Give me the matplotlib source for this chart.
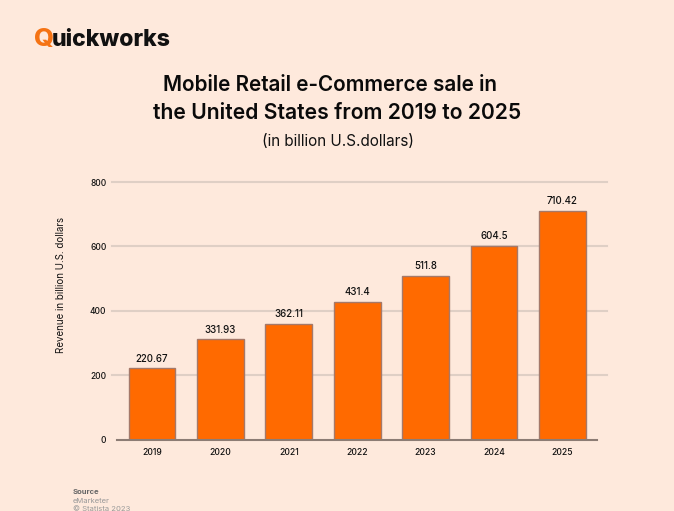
import matplotlib
matplotlib.use("Agg")
from matplotlib import pyplot as plt

years = ["2019", "2020", "2021", "2022", "2023", "2024", "2025"]
revenue = [220.67, 331.93, 362.11, 431.4, 511.8, 604.5, 710.42]
# bars in the picture don't quite follow their labels, so heights are read off separately
bar_heights = [220.67, 311, 360, 428, 508, 602, 710.42]
y_ticks = [0, 200, 400, 600, 800]

bg = "#fee9dc"
orange = "#ff6a00"
W, H = 674, 511

plt.rcParams["font.family"] = ["Inter", "DejaVu Sans"]

fig = plt.figure(figsize=(W / 100, H / 100), dpi=100, facecolor=bg)

# axes box in pixels: gridlines run 112-607, y 0 at 439.5, y 800 at 182
left, right, top, bottom = 112, 607, 182, 439.5
ax = fig.add_axes([left / W, 1 - bottom / H, (right - left) / W, (bottom - top) / H])
ax.set_facecolor("none")

spacing = 68.4
x = list(range(len(years)))
ax.set_xlim((left - 152) / spacing, (right - 152) / spacing)
ax.set_ylim(0, 800)

ax.grid(axis="y", color="#dfcfc5", linewidth=1.5, zorder=1, clip_on=False)
ax.yaxis.get_major_ticks  # gridline at 0 is switched off below, baseline replaces it
ax.set_axisbelow(True)
bars = ax.bar(x, bar_heights, width=0.687, color=orange, edgecolor="#a5796a",
              linewidth=1.0, zorder=2)

for xi, h, v in zip(x, bar_heights, revenue):
    ax.annotate(f"{v:g}", (xi, h), xytext=(0, 3.5), textcoords="offset points",
                ha="center", va="bottom", fontsize=7, fontweight="medium", color="#111111")

for s in ax.spines.values():
    s.set_visible(False)
ax.axhline(0, xmin=(117 - left) / (right - left), xmax=(597 - left) / (right - left),
           color="#8c7c74", linewidth=1.5, zorder=3, clip_on=False)

ax.set_xticks(x)
ax.set_xticklabels(years, fontsize=6.2, fontweight="medium", color="#111111")
ax.set_yticks(y_ticks)
ax.set_yticklabels([str(t) for t in y_ticks], fontsize=6, fontweight="medium", color="#111111")
ax.tick_params(axis="both", length=0)
ax.tick_params(axis="x", pad=6)
ax.tick_params(axis="y", pad=4)
ax.yaxis.get_major_ticks()[0].gridline.set_visible(False)

fig.text(61 / W, 1 - 285 / H, "Revenue in billion U.S. dollars", rotation=90,
         ha="center", va="center", fontsize=7, color="#111111")

# logo text with an orange Q
fig.text(34 / W, 1 - 39 / H, "Q", color="#f57314", fontsize=18.5, fontweight="heavy",
         ha="left", va="center")
fig.text(52 / W, 1 - 40.5 / H, "uickworks", color="#111111", fontsize=16.6, fontweight="heavy",
         ha="left", va="center")

fig.text(330 / W, 1 - 85 / H, "Mobile Retail e-Commerce sale in", fontsize=14.9,
         fontweight="semibold", ha="center", va="center", color="#0a0a0a")
fig.text(337.5 / W, 1 - 113 / H, "the United States from 2019 to 2025", fontsize=15.2,
         fontweight="semibold", ha="center", va="center", color="#0a0a0a")
fig.text(337.5 / W, 1 - 142 / H, "(in billion U.S.dollars)", fontsize=11,
         ha="center", va="center", color="#111111")

fig.text(73 / W, 1 - 492 / H, "Source", fontsize=5.5, fontweight="bold",
         ha="left", va="center", color="#666666")
fig.text(73 / W, 1 - 501 / H, "eMarketer", fontsize=5.5,
         ha="left", va="center", color="#999999")
fig.text(73 / W, 1 - 509 / H, "© Statista 2023", fontsize=5.5,
         ha="left", va="center", color="#999999")

fig.savefig("out.png", dpi=100, facecolor=bg)
